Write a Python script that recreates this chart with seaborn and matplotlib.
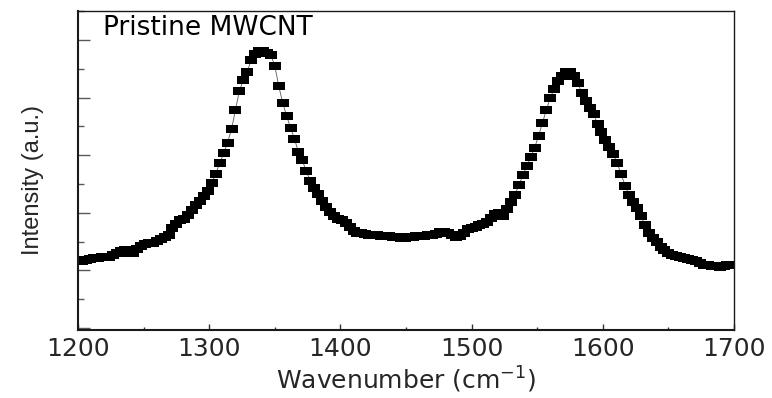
import numpy as np
import pandas as pd
import matplotlib
matplotlib.use("Agg")
import matplotlib.pyplot as plt
from matplotlib.ticker import MultipleLocator
import seaborn as sns

# ---- data ----
wavenumber = list(range(1200, 1699, 3))
intensity = [
    1.18, 1.17, 1.18, 1.20, 1.22, 1.21, 1.23, 1.23, 1.24, 1.26,   # 1200
    1.30, 1.33, 1.35, 1.31, 1.31, 1.37, 1.42, 1.45, 1.47, 1.48,   # 1230
    1.51, 1.54, 1.58, 1.62, 1.74, 1.81, 1.87, 1.90, 1.96, 2.04,   # 1260
    2.13, 2.21, 2.29, 2.38, 2.52, 2.68, 2.86, 3.03, 3.22, 3.45,   # 1290
    3.78, 4.12, 4.30, 4.45, 4.65, 4.75, 4.80, 4.81, 4.77, 4.74,   # 1320
    4.55, 4.20, 3.91, 3.68, 3.48, 3.28, 3.06, 2.91, 2.72, 2.56,   # 1350
    2.43, 2.32, 2.21, 2.10, 2.01, 1.95, 1.90, 1.87, 1.82, 1.76,   # 1380
    1.69, 1.65, 1.65, 1.63, 1.62, 1.61, 1.61, 1.60, 1.60, 1.59,   # 1410
    1.58, 1.58, 1.57, 1.56, 1.58, 1.58, 1.59, 1.60, 1.60, 1.61,   # 1440
    1.62, 1.64, 1.67, 1.67, 1.65, 1.62, 1.58, 1.59, 1.65, 1.71,   # 1470
    1.74, 1.76, 1.78, 1.80, 1.84, 1.91, 1.98, 2.00, 1.94, 2.06,   # 1500
    2.18, 2.31, 2.48, 2.65, 2.81, 2.96, 3.13, 3.33, 3.56, 3.79,   # 1530
    4.00, 4.15, 4.28, 4.37, 4.44, 4.44, 4.38, 4.25, 4.08, 3.94,   # 1560
    3.82, 3.71, 3.54, 3.40, 3.27, 3.15, 3.02, 2.86, 2.67, 2.47,   # 1590
    2.31, 2.19, 2.08, 1.95, 1.79, 1.65, 1.56, 1.49, 1.41, 1.36,   # 1620
    1.31, 1.27, 1.25, 1.23, 1.21, 1.19, 1.18, 1.16, 1.13, 1.10,   # 1650
    1.09, 1.08, 1.07, 1.06, 1.08, 1.09, 1.10,                     # 1680
]
x_ticks = [1200, 1300, 1400, 1500, 1600, 1700]
title_text = "Pristine MWCNT"
x_label = "Wavenumber (cm$^{-1}$)"
y_label = "Intensity (a.u.)"

df = pd.DataFrame({"wn": wavenumber, "I": intensity})

sns.set_theme(style="ticks")
plt.rcParams["font.family"] = ["DejaVu Sans"]

fig = plt.figure(figsize=(7.72, 3.98), dpi=100)
ax = fig.add_axes([78 / 772, 68 / 398, 656 / 772, 319 / 398])

rect_marker = [(-1.5, -1.0), (1.5, -1.0), (1.5, 1.0), (-1.5, 1.0), (-1.5, -1.0)]
sns.lineplot(data=df, x="wn", y="I", ax=ax, sort=False, estimator=None,
             color="0.35", linewidth=0.6, marker=rect_marker, markersize=8.8,
             markerfacecolor="black", markeredgecolor="black",
             markeredgewidth=0)

ax.set_xlim(1200, 1700)
ax.set_ylim(-0.035, 5.503)
ax.set_xticks(x_ticks)
ax.xaxis.set_minor_locator(MultipleLocator(50))
ax.yaxis.set_major_locator(MultipleLocator(1))
ax.yaxis.set_minor_locator(MultipleLocator(0.5))
ax.set_yticklabels([])

ax.tick_params(axis="x", which="major", direction="in", length=4, width=1,
               labelsize=18, pad=5, color="0.2")
ax.tick_params(axis="x", which="minor", direction="in", length=2.2, width=1,
               color="0.2")
ax.tick_params(axis="y", which="major", direction="in", length=8.5, width=1,
               color="0.35", left=True, labelleft=False)
ax.tick_params(axis="y", which="minor", direction="in", length=4.3, width=1,
               color="0.35")
for side in ["left", "bottom"]:
    ax.spines[side].set_linewidth(1.5)
for side in ["top", "right"]:
    ax.spines[side].set_linewidth(1.0)
for s in ax.spines.values():
    s.set_color("0.1")

ax.set_xlabel(x_label, fontsize=18)
ax.xaxis.set_label_coords(0.50, -0.108)
ax.set_ylabel(y_label, fontsize=17,
              family=["Liberation Sans Narrow", "Liberation Sans", "DejaVu Sans"])
ax.yaxis.set_label_coords(-0.052, 0.47)

ax.text(0.038, 0.925, title_text, transform=ax.transAxes, fontsize=19,
        ha="left", va="baseline", color="black")

fig.savefig("out.png", dpi=100)
